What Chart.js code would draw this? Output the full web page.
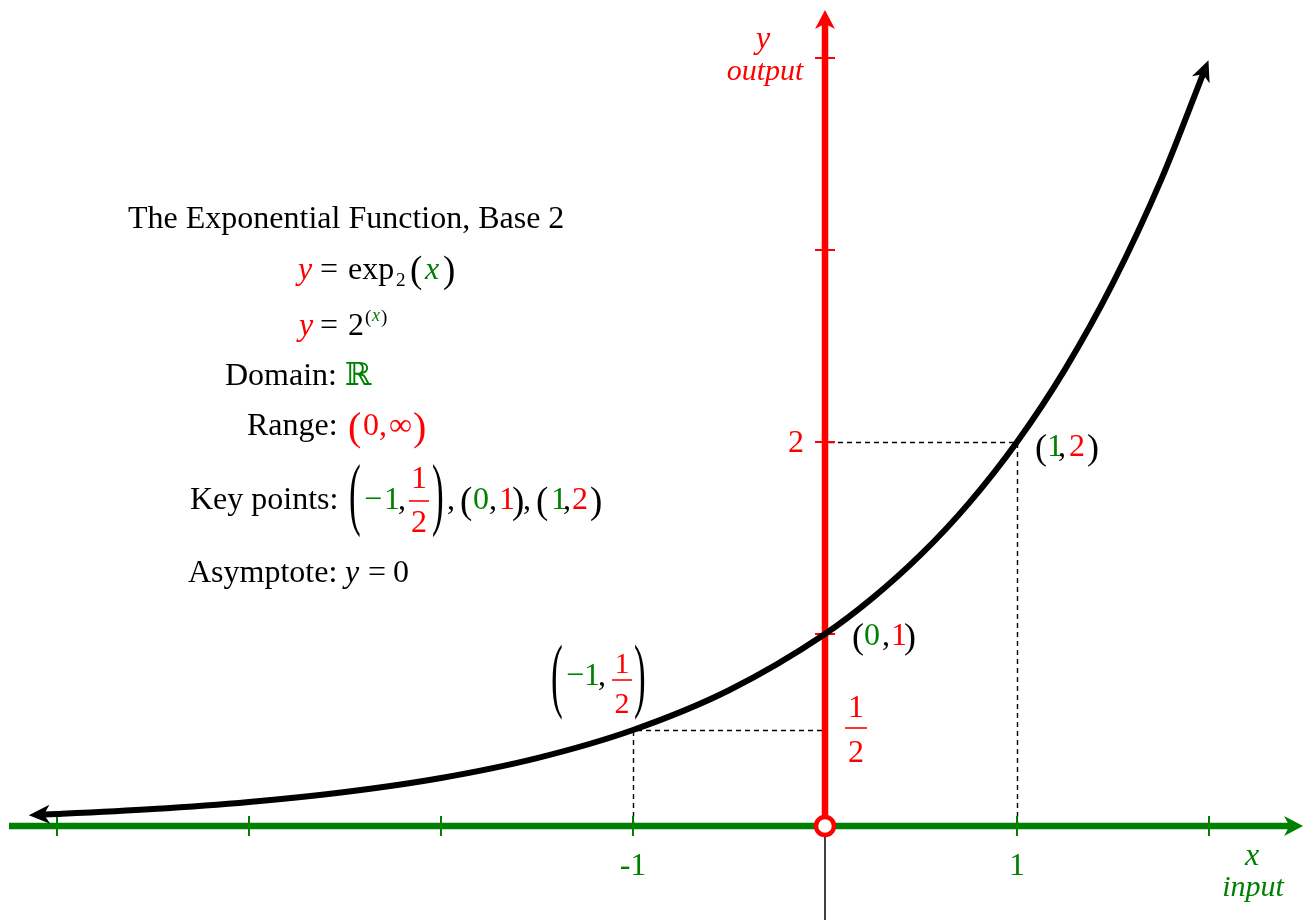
<!DOCTYPE html>
<html lang="en">
<head>
    <meta charset="UTF-8">
    <title>The Exponential Function, Base 2</title>
    <script src="https://cdn.jsdelivr.net/npm/chart.js"></script>
    <style>
        body { margin: 0; background: #fff; }
        canvas { display: block; }
    </style>
</head>
<body>
    <canvas id="expChart" width="1304" height="920"></canvas>

    <script>
        // values: y = 2^x
        const curveX = [-4.1, -4, -3.5, -3, -2.5, -2, -1.5, -1, -0.5, 0, 0.25, 0.5, 0.75, 1, 1.25, 1.5, 1.75, 1.98];
        const curveY = [0.0583, 0.0625, 0.0884, 0.125, 0.1768, 0.25, 0.3536, 0.5, 0.7071, 1, 1.1892, 1.4142, 1.6818, 2, 2.3784, 2.8284, 3.3636, 3.945];

        // key points (-1, 1/2), (0, 1), (1, 2)
        const keyX = [-1, 0, 1];
        const keyY = [0.5, 1, 2];

        // tick marks
        const xTicks = [-4, -3, -2, -1, 1, 2];
        const yTicks = [1, 2, 3, 4];
        const xTickVals = [-1, 1];
        const xTickText = ['-1', '1'];

        const GREEN = '#008000';
        const RED = '#ff0000';
        const SERIF = "'Liberation Serif', 'DejaVu Serif', 'Times New Roman', serif";

        function f(size, italic) {
            return (italic ? 'italic ' : '') + size + 'px ' + SERIF;
        }

        function txt(ctx, s, x, y, color, font, align) {
            ctx.font = font || f(32);
            ctx.fillStyle = color || '#000';
            ctx.textAlign = align || 'left';
            ctx.textBaseline = 'alphabetic';
            ctx.fillText(s, x, y);
        }

        // paren stretched to span top..bottom
        function bigParen(ctx, ch, x, top, bottom, color) {
            ctx.save();
            ctx.font = f(32);
            ctx.fillStyle = color || '#000';
            ctx.textAlign = 'left';
            ctx.textBaseline = 'alphabetic';
            const m = ctx.measureText(ch);
            const h = m.actualBoundingBoxAscent + m.actualBoundingBoxDescent;
            ctx.translate(x, top);
            ctx.scale(1.1, (bottom - top) / h);
            ctx.fillText(ch, 0, m.actualBoundingBoxAscent);
            ctx.restore();
        }

        function frac(ctx, cx, numBase, barY, denBase, size, halfW, color) {
            txt(ctx, '1', cx, numBase, color, f(size), 'center');
            txt(ctx, '2', cx, denBase, color, f(size), 'center');
            ctx.strokeStyle = color;
            ctx.lineWidth = 1.6;
            ctx.setLineDash([]);
            ctx.beginPath();
            ctx.moveTo(cx - halfW, barY);
            ctx.lineTo(cx + halfW, barY);
            ctx.stroke();
        }

        // arrow head with tip at (tx, ty), pointing along (dx, dy)
        function arrowHead(ctx, tx, ty, dx, dy, len, half, color) {
            const d = Math.hypot(dx, dy);
            const ux = dx / d, uy = dy / d;
            const nx = -uy, ny = ux;
            ctx.fillStyle = color;
            ctx.beginPath();
            ctx.moveTo(tx, ty);
            ctx.lineTo(tx - ux * len + nx * half, ty - uy * len + ny * half);
            ctx.lineTo(tx - ux * len * 0.72, ty - uy * len * 0.72);
            ctx.lineTo(tx - ux * len - nx * half, ty - uy * len - ny * half);
            ctx.closePath();
            ctx.fill();
        }

        const decor = {
            id: 'decor',
            beforeDatasetsDraw(chart) {
                const ctx = chart.ctx;
                const X = v => chart.scales.x.getPixelForValue(v);
                const Y = v => chart.scales.y.getPixelForValue(v);
                ctx.save();

                // dashed guides to the key points
                ctx.strokeStyle = '#000';
                ctx.lineWidth = 1.4;
                ctx.setLineDash([5, 4]);
                keyX.forEach((kx, i) => {
                    if (kx === 0) return;
                    const px = Math.round(X(kx)) + 0.5, py = Math.round(Y(keyY[i])) + 0.5;
                    ctx.beginPath();
                    ctx.moveTo(px, Y(0));
                    ctx.lineTo(px, py);
                    ctx.lineTo(X(0), py);
                    ctx.stroke();
                });
                ctx.setLineDash([]);

                // thin black line under the origin
                ctx.lineWidth = 1.5;
                ctx.beginPath();
                ctx.moveTo(X(0), Y(0));
                ctx.lineTo(X(0), Y(-0.49));
                ctx.stroke();

                // x axis (green)
                ctx.strokeStyle = GREEN;
                ctx.lineWidth = 6.5;
                ctx.beginPath();
                ctx.moveTo(X(-4.25), Y(0));
                ctx.lineTo(X(2.42), Y(0));
                ctx.stroke();
                arrowHead(ctx, X(2.49), Y(0), 1, 0, 19, 10, GREEN);
                ctx.lineWidth = 2;
                xTicks.forEach(v => {
                    ctx.beginPath();
                    ctx.moveTo(X(v), Y(0) - 10);
                    ctx.lineTo(X(v), Y(0) + 10);
                    ctx.stroke();
                });

                // y axis (red)
                ctx.strokeStyle = RED;
                ctx.lineWidth = 6.5;
                ctx.beginPath();
                ctx.moveTo(X(0), Y(0));
                ctx.lineTo(X(0), Y(4.18));
                ctx.stroke();
                arrowHead(ctx, X(0), Y(4.25), 0, -1, 19, 10, RED);
                ctx.lineWidth = 2;
                yTicks.forEach(v => {
                    ctx.beginPath();
                    ctx.moveTo(X(0) - 10, Y(v));
                    ctx.lineTo(X(0) + 10, Y(v));
                    ctx.stroke();
                });

                ctx.restore();
            },
            afterDatasetsDraw(chart) {
                const ctx = chart.ctx;
                const X = v => chart.scales.x.getPixelForValue(v);
                const Y = v => chart.scales.y.getPixelForValue(v);
                ctx.save();

                // arrow heads on both ends of the curve
                const n = curveX.length;
                const ax0 = X(curveX[0]), ay0 = Y(curveY[0]);
                const ax1 = X(curveX[1]), ay1 = Y(curveY[1]);
                const al = Math.hypot(ax0 - ax1, ay0 - ay1);
                arrowHead(ctx, ax0 + (ax0 - ax1) / al * 9, ay0 + (ay0 - ay1) / al * 9, ax0 - ax1, ay0 - ay1, 21, 9.5, '#000');
                const bx0 = X(curveX[n - 1]), by0 = Y(curveY[n - 1]);
                const bx1 = X(curveX[n - 2]), by1 = Y(curveY[n - 2]);
                const bl = Math.hypot(bx0 - bx1, by0 - by1);
                arrowHead(ctx, bx0 + (bx0 - bx1) / bl * 9, by0 + (by0 - by1) / bl * 9, bx0 - bx1, by0 - by1, 21, 9.5, '#000');

                // open circle at the origin
                ctx.beginPath();
                ctx.arc(X(0), Y(0), 9, 0, Math.PI * 2);
                ctx.fillStyle = '#fff';
                ctx.fill();
                ctx.strokeStyle = RED;
                ctx.lineWidth = 4.5;
                ctx.stroke();

                // axis names
                txt(ctx, 'y', 763, 48, RED, f(32, true), 'center');
                txt(ctx, 'output', 765, 80, RED, f(30, true), 'center');
                txt(ctx, 'x', 1252, 865, GREEN, f(32, true), 'center');
                txt(ctx, 'input', 1253, 896, GREEN, f(30, true), 'center');

                // tick labels
                xTickVals.forEach((v, i) => txt(ctx, xTickText[i], X(v), 875, GREEN, f(32), 'center'));
                txt(ctx, '2', X(0) - 29, Y(2) + 10, RED, f(32), 'center');
                frac(ctx, X(0) + 31, 717, 728, 762, 32, 11, RED);

                // point labels
                txt(ctx, '(', 852, 648, '#000', f(36));
                txt(ctx, '0', 864, 645, GREEN);
                txt(ctx, ',', 882, 645, '#000');
                txt(ctx, '1', 891, 645, RED);
                txt(ctx, ')', 904, 648, '#000', f(36));

                txt(ctx, '(', 1035, 459, '#000', f(36));
                txt(ctx, '1', 1047, 456, GREEN);
                txt(ctx, ',', 1058, 456, '#000');
                txt(ctx, '2', 1069, 456, RED);
                txt(ctx, ')', 1087, 459, '#000', f(36));

                bigParen(ctx, '(', 551, 642, 720);
                txt(ctx, '\u2212', 566, 685, GREEN, f(32));
                txt(ctx, '1', 584, 685, GREEN, f(32));
                txt(ctx, ',', 598, 685, '#000', f(32));
                frac(ctx, 622, 673, 680, 713, 30, 10, RED);
                bigParen(ctx, ')', 634, 642, 720);

                // description block
                txt(ctx, 'The Exponential Function, Base 2', 128, 228);

                txt(ctx, 'y', 298, 279, RED, f(32, true));
                txt(ctx, '=', 320, 279);
                txt(ctx, 'exp', 348, 279);
                txt(ctx, '2', 396, 286, '#000', f(19));
                txt(ctx, '(', 410, 282, '#000', f(37));
                txt(ctx, 'x', 425, 279, GREEN, f(32, true));
                txt(ctx, ')', 443, 282, '#000', f(37));

                txt(ctx, 'y', 299, 335, RED, f(32, true));
                txt(ctx, '=', 320, 335);
                txt(ctx, '2', 348, 335);
                txt(ctx, '(', 365, 323, '#000', f(19));
                txt(ctx, 'x', 372, 321, GREEN, f(18, true));
                txt(ctx, ')', 381, 323, '#000', f(19));

                txt(ctx, 'Domain:', 225, 385);
                txt(ctx, '\u211D', 345, 385, GREEN);

                txt(ctx, 'Range:', 247, 435);
                txt(ctx, '(', 348, 440, RED, f(40));
                txt(ctx, '0', 363, 435, RED);
                txt(ctx, ',', 379, 435, RED);
                txt(ctx, '\u221E', 389, 435, RED);
                txt(ctx, ')', 413, 440, RED, f(40));

                txt(ctx, 'Key points:', 190, 509);
                bigParen(ctx, '(', 349, 462, 538);
                txt(ctx, '\u2212', 364, 509, GREEN);
                txt(ctx, '1', 384, 509, GREEN);
                txt(ctx, ',', 398, 509);
                frac(ctx, 419, 488, 501, 532, 32, 10, RED);
                bigParen(ctx, ')', 432, 462, 538);
                txt(ctx, ',', 447, 509);
                txt(ctx, '(', 460, 513, '#000', f(37));
                txt(ctx, '0', 473, 509, GREEN);
                txt(ctx, ',', 489, 509);
                txt(ctx, '1', 499, 509, RED);
                txt(ctx, ')', 512, 513, '#000', f(37));
                txt(ctx, ',', 523, 509);
                txt(ctx, '(', 536, 513, '#000', f(37));
                txt(ctx, '1', 551, 509, GREEN);
                txt(ctx, ',', 563, 509);
                txt(ctx, '2', 572, 509, RED);
                txt(ctx, ')', 590, 513, '#000', f(37));

                txt(ctx, 'Asymptote:', 188, 582);
                txt(ctx, 'y', 345, 582, '#000', f(32, true));
                txt(ctx, '=', 368, 582);
                txt(ctx, '0', 393, 582);

                ctx.restore();
            }
        };

        const points = curveX.map((x, i) => ({ x: x, y: curveY[i] }));

        new Chart(document.getElementById('expChart').getContext('2d'), {
            type: 'scatter',
            data: {
                datasets: [{
                    data: points,
                    showLine: true,
                    borderColor: '#000',
                    borderWidth: 6,
                    pointRadius: 0,
                    cubicInterpolationMode: 'monotone',
                    clip: false
                }]
            },
            options: {
                responsive: false,
                animation: false,
                events: [],
                layout: { padding: 0 },
                plugins: {
                    legend: { display: false },
                    tooltip: { enabled: false }
                },
                scales: {
                    x: { type: 'linear', min: -825 / 192, max: 479 / 192, display: false },
                    y: { type: 'linear', min: -94 / 192, max: 826 / 192, display: false }
                }
            },
            plugins: [decor]
        });
    </script>
</body>
</html>
